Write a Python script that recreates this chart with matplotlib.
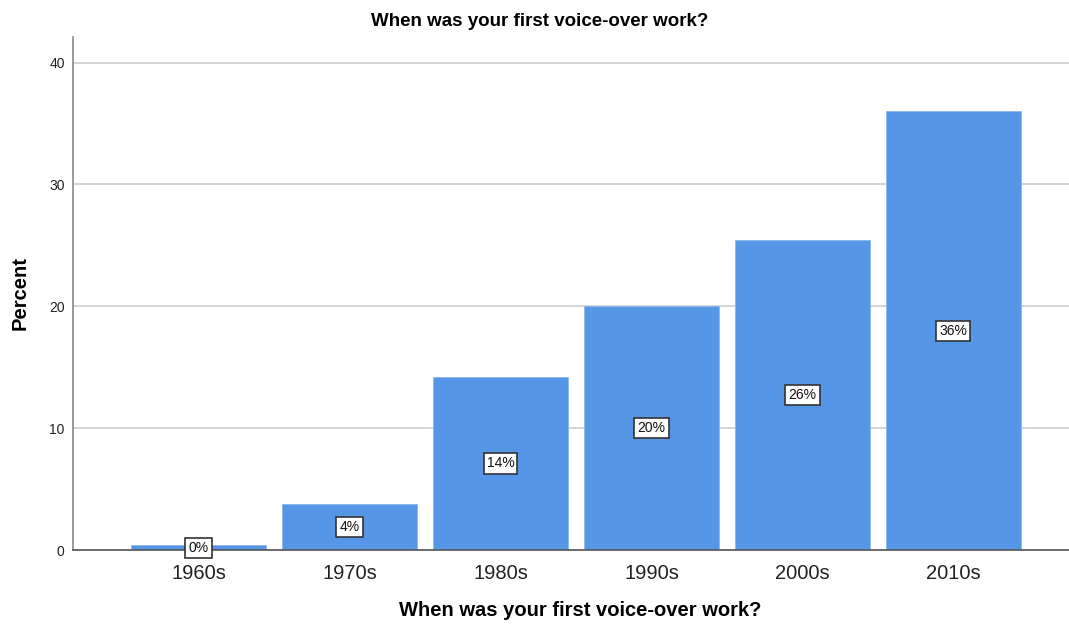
import matplotlib.pyplot as plt

plt.rcParams['font.family'] = ['Liberation Sans', 'DejaVu Sans']

# データ
decades = ["1960s", "1970s", "1980s", "1990s", "2000s", "2010s"]
percent = [0.4, 3.75, 14.2, 20.05, 25.45, 36.0]
labels = ["0%", "4%", "14%", "20%", "26%", "36%"]
y_ticks = [0, 10, 20, 30, 40]

fig = plt.figure(figsize=(10.69, 6.26), dpi=100)
ax = fig.add_axes([73 / 1069, 1 - 550 / 626, 1 - 73 / 1069, (550 - 37) / 626])

x = list(range(len(decades)))
ax.bar(x, percent, width=0.9, color="#5596e6", edgecolor="#8cb8ee", linewidth=0.6, zorder=2)

# バー中央にラベル
for xi, v, lab in zip(x, percent, labels):
    ax.text(xi, v / 2, lab, ha="center", va="center", fontsize=10, color="#111111", zorder=4,
            bbox=dict(boxstyle="square,pad=0.22", facecolor="white", edgecolor="#333333", linewidth=1.2))

ax.set_xlim(-0.831, 5.765)
ax.set_ylim(0, 42.1)
ax.set_yticks(y_ticks)
ax.set_xticks(x)
ax.set_xticklabels(decades, fontsize=14.5, color="#222222")
ax.tick_params(axis="y", length=0, labelsize=10, pad=6, colors="#222222")
ax.tick_params(axis="x", length=0, pad=10)
ax.grid(axis="y", color="#cccccc", linewidth=1.2, zorder=0)

for side in ["top", "right"]:
    ax.spines[side].set_visible(False)
ax.spines["left"].set_color("#888888")
ax.spines["left"].set_linewidth(1.2)
ax.spines["bottom"].set_color("#555555")
ax.spines["bottom"].set_linewidth(1.2)

fig.text(540 / 1069, 1 - 21 / 626, "When was your first voice-over work?", ha="center", va="center",
         fontsize=13.5, fontweight="bold")
fig.text(580 / 1069, 1 - 610 / 626, "When was your first voice-over work?", ha="center", va="center",
         fontsize=14.5, fontweight="bold")
fig.text(20 / 1069, 1 - 293 / 626, "Percent", ha="center", va="center", rotation=90,
         fontsize=14.5, fontweight="bold")

plt.savefig("out.png", dpi=100)
